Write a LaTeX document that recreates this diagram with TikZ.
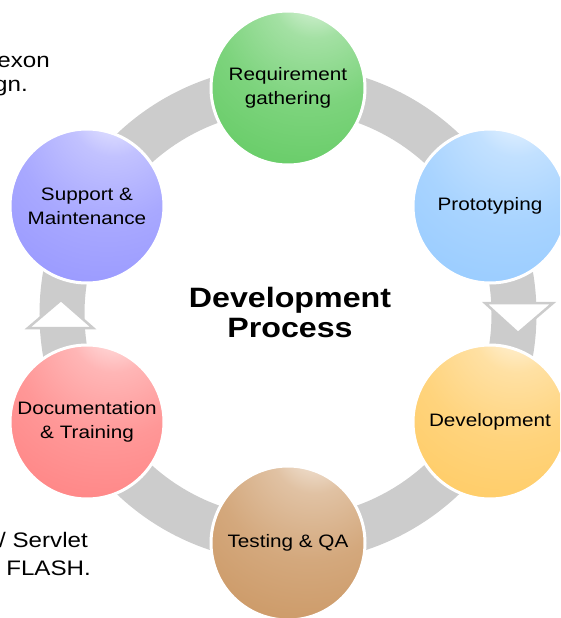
\documentclass[tikz,border=0pt]{standalone}
\usepackage{fontspec}
\setmainfont{Liberation Sans}[FakeStretch=1.15]
\usetikzlibrary{positioning}

\definecolor{reqgreen}{HTML}{66CC66}
\definecolor{protoblue}{HTML}{99CCFF}
\definecolor{devorange}{HTML}{FFCC66}
\definecolor{testbrown}{HTML}{CC9966}
\definecolor{docpink}{HTML}{FF8585}
\definecolor{suppviolet}{HTML}{9999FF}
\definecolor{ringgray}{HTML}{CCCCCC}
\colorlet{glosscol}{white}
\pgfdeclareradialshading[glosscol]{gloss}{\pgfpoint{10bp}{35bp}}{%
  color(0bp)=(glosscol!5!white); color(5bp)=(glosscol!25!white);
  color(14bp)=(glosscol!60!white); color(30bp)=(glosscol!85!white);
  color(48bp)=(glosscol); color(100bp)=(glosscol)}

\begin{document}
\begin{tikzpicture}[x=1pt, y=-1pt,
    stage/.style={circle, minimum size=154pt, inner sep=0pt, align=center,
      /utils/exec={\colorlet{glosscol}{#1}}, shade, shading=gloss,
      draw=white, line width=3pt, font=\fontsize{18}{24}\selectfont},
    side/.style={inner sep=0pt, anchor=base east, font=\fontsize{21}{25}\selectfont},
    flowtip/.style={fill=white, draw=ringgray, line width=2.5pt, line join=miter}]
    \clip (0,0) rectangle (560,618);
    \coordinate (hub) at (288,314);
    \draw[ringgray, line width=45pt] (hub) circle[radius=226pt];
    \draw[flowtip] (28,328) -- (61,300) -- (93,328) -- cycle;
    \draw[flowtip] (485,303) -- (553,303) -- (518,333) -- cycle;
    \node[side] (exon) at (50,67) {exon};
    \node[side] (gn) at (28,92) {gn.};
    \node[side] (servlet) at (88,547) {/ Servlet};
    \node[side] (flash) at (91,575) {FLASH.};
    \node[font=\bfseries\fontsize{28}{30}\selectfont, align=center] (title) at (290,312) {Development\\Process};
    \node[stage=reqgreen] (req) at (288,88) {Requirement\\gathering};
    \node[stage=protoblue] (proto) at (490,206) {Prototyping};
    \node[stage=devorange] (dev) at (490,422) {Development};
    \node[stage=testbrown] (test) at (288,543) {Testing \& QA};
    \node[stage=docpink] (doc) at (87,422) {Documentation\\\& Training};
    \node[stage=suppviolet] (supp) at (87,206) {Support \&\\Maintenance};
\end{tikzpicture}
\end{document}
